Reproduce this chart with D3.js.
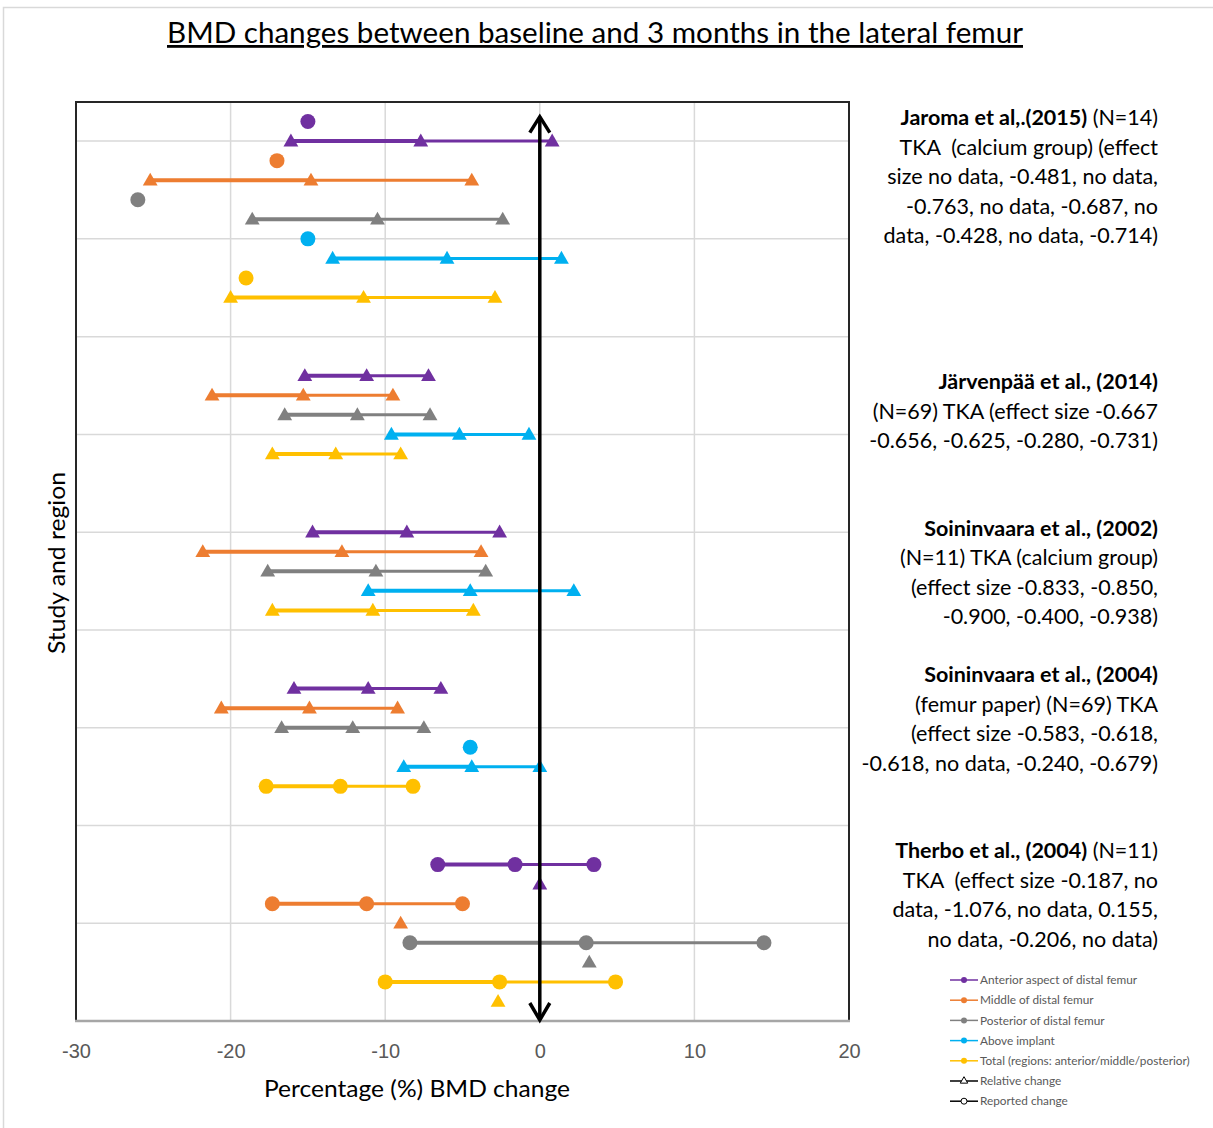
<!DOCTYPE html>
<html>
<head>
<meta charset="utf-8">
<script src="https://cdn.jsdelivr.net/npm/d3@7"></script>
<style>
    body { margin: 0; background: #fff; }
    svg { display: block; font-family: Lato, "Open Sans", sans-serif; }
    .note { white-space: pre; }
</style>
</head>
<body>
<div id="chart"></div>
<script>
// regions (series) and colours
var regions = ["Anterior aspect of distal femur", "Middle of distal femur", "Posterior of distal femur",
    "Above implant", "Total (regions: anterior/middle/posterior)"];
var regionColors = ["#7030a0", "#ed7d31", "#808080", "#00b0f0", "#ffc000"];

// rows: [region index, kind ("rel" = relative change, "rep" = reported change), row, values]
var jaroma = [
    [0, "rep", 46, [-15.0]],
    [0, "rel", 45, [-16.1, -7.7, 0.8]],
    [1, "rep", 44, [-17.0]],
    [1, "rel", 43, [-25.2, -14.8, -4.4]],
    [2, "rep", 42, [-26.0]],
    [2, "rel", 41, [-18.6, -10.5, -2.4]],
    [3, "rep", 40, [-15.0]],
    [3, "rel", 39, [-13.4, -6.0, 1.4]],
    [4, "rep", 38, [-19.0]],
    [4, "rel", 37, [-20.0, -11.4, -2.9]]
];
var jarvenpaa = [
    [0, "rel", 33, [-15.2, -11.2, -7.2]],
    [1, "rel", 32, [-21.2, -15.3, -9.5]],
    [2, "rel", 31, [-16.5, -11.8, -7.1]],
    [3, "rel", 30, [-9.6, -5.2, -0.7]],
    [4, "rel", 29, [-17.3, -13.2, -9.0]]
];
var soininvaara2002 = [
    [0, "rel", 25, [-14.7, -8.6, -2.6]],
    [1, "rel", 24, [-21.8, -12.8, -3.8]],
    [2, "rel", 23, [-17.6, -10.6, -3.5]],
    [3, "rel", 22, [-11.1, -4.5, 2.2]],
    [4, "rel", 21, [-17.3, -10.8, -4.3]]
];
var soininvaara2004 = [
    [0, "rel", 17, [-15.9, -11.1, -6.4]],
    [1, "rel", 16, [-20.6, -14.9, -9.2]],
    [2, "rel", 15, [-16.7, -12.1, -7.5]],
    [3, "rep", 14, [-4.5]],
    [3, "rel", 13, [-8.8, -4.4, 0.0]],
    [4, "rep", 12, [-17.7, -12.9, -8.2]]
];
var therbo = [
    [0, "rep", 8, [-6.6, -1.6, 3.5]],
    [0, "rel", 7, [0.0]],
    [1, "rep", 6, [-17.3, -11.2, -5.0]],
    [1, "rel", 5, [-9.0]],
    [2, "rep", 4, [-8.4, 3.0, 14.5]],
    [2, "rel", 3, [3.2]],
    [4, "rep", 2, [-10.0, -2.6, 4.9]],
    [4, "rel", 1, [-2.7]]
];

// axis ticks
var xTicks = [-30, -20, -10, 0, 10, 20];
var yGrid = [5, 10, 15, 20, 25, 30, 35, 40, 45];

// study annotations
var noteTitles = ["Jaroma et al,.(2015)", "Järvenpää et al., (2014)", "Soininvaara et al., (2002)",
    "Soininvaara et al., (2004)", "Therbo et al., (2004)"];
var noteTails = [" (N=14)", "", "", "", " (N=11)"];
var noteLines = [
    ["TKA  (calcium group) (effect", "size no data, -0.481, no data,", "-0.763, no data, -0.687, no", "data, -0.428, no data, -0.714)"],
    ["(N=69) TKA (effect size -0.667", "-0.656, -0.625, -0.280, -0.731)"],
    ["(N=11) TKA (calcium group)", "(effect size -0.833, -0.850,", "-0.900, -0.400, -0.938)"],
    ["(femur paper) (N=69) TKA", "(effect size -0.583, -0.618,", "-0.618, no data, -0.240, -0.679)"],
    ["TKA  (effect size -0.187, no", "data, -1.076, no data, 0.155,", "no data, -0.206, no data)"]
];
var noteRows = [46.2, 32.7, 25.2, 17.7, 8.7];

var legendLabels = regions.concat(["Relative change", "Reported change"]);

var svgWidth = 1213, svgHeight = 1128;
var plot = { left: 76, right: 849, top: 102, bottom: 1021 };

var svg = d3.select('#chart').append('svg')
    .attr('width', svgWidth)
    .attr('height', svgHeight);

//外框
svg.append('rect')
    .attr('x', 3.5).attr('y', 7.5)
    .attr('width', 1212).attr('height', 1126)
    .attr('fill', 'none')
    .attr('stroke', '#d9d9d9')
    .attr('stroke-width', 1.5);

var xScale = d3.scaleLinear().domain([-30, 20]).range([plot.left, plot.right]);
var yScale = d3.scaleLinear().domain([0, 47]).range([plot.bottom, plot.top]);

//grid
var gridLayer = svg.append('g').attr('class', 'grid');
gridLayer.selectAll('line.gx')
    .data(xTicks.slice(1, -1))
    .enter().append('line')
    .attr('x1', function (d) { return xScale(d); })
    .attr('x2', function (d) { return xScale(d); })
    .attr('y1', plot.top).attr('y2', plot.bottom)
    .attr('stroke', '#d9d9d9').attr('stroke-width', 1.5);
gridLayer.selectAll('line.gy')
    .data(yGrid)
    .enter().append('line')
    .attr('y1', function (d) { return yScale(d); })
    .attr('y2', function (d) { return yScale(d); })
    .attr('x1', plot.left).attr('x2', plot.right)
    .attr('stroke', '#d9d9d9').attr('stroke-width', 1.5);

//plot frame
svg.append('rect')
    .attr('x', plot.left).attr('y', plot.top)
    .attr('width', plot.right - plot.left).attr('height', plot.bottom - plot.top)
    .attr('fill', 'none')
    .attr('stroke', '#262626')
    .attr('stroke-width', 2);
svg.append('line')
    .attr('x1', plot.left - 1).attr('x2', plot.right + 1)
    .attr('y1', plot.bottom).attr('y2', plot.bottom)
    .attr('stroke', '#a6a6a6').attr('stroke-width', 2.5);

//x axis labels
var axisX = svg.append('g')
    .attr('transform', 'translate(0,' + plot.bottom + ')')
    .call(d3.axisBottom(xScale)
        .tickValues(xTicks)
        .tickFormat(function (d) { return String(d); })
        .tickSize(0)
        .tickPadding(23));
axisX.select('.domain').remove();
axisX.selectAll('text')
    .attr('fill', '#595959')
    .style('font-size', '20px');

var triangle = d3.symbol().type(d3.symbolTriangle).size(95);
var triangleSmall = d3.symbol().type(d3.symbolTriangle).size(24);

//series
var allRows = [].concat(jaroma, jarvenpaa, soininvaara2002, soininvaara2004, therbo);
var seriesLayer = svg.append('g').attr('class', 'series');

allRows.forEach(function (r) {
    var color = regionColors[r[0]];
    var y = yScale(r[2]);
    var vals = r[3];
    var g = seriesLayer.append('g');
    if (vals.length === 3) {
        g.append('line')
            .attr('x1', xScale(vals[0])).attr('x2', xScale(vals[1]))
            .attr('y1', y).attr('y2', y)
            .attr('stroke', color).attr('stroke-width', 4);
        g.append('line')
            .attr('x1', xScale(vals[1])).attr('x2', xScale(vals[2]))
            .attr('y1', y).attr('y2', y)
            .attr('stroke', color).attr('stroke-width', 3);
    }
    vals.forEach(function (v) {
        if (r[1] === 'rel') {
            g.append('path')
                .attr('d', triangle)
                .attr('transform', 'translate(' + xScale(v) + ',' + (y + 1) + ')')
                .attr('fill', color);
        } else {
            g.append('circle')
                .attr('cx', xScale(v)).attr('cy', y)
                .attr('r', 7.5)
                .attr('fill', color);
        }
    });
});

//double arrow on zero
var x0 = xScale(0);
var arrowTop = yScale(46.3), arrowBottom = yScale(0);
svg.append('line')
    .attr('x1', x0).attr('x2', x0)
    .attr('y1', arrowTop + 1).attr('y2', arrowBottom - 1)
    .attr('stroke', '#000').attr('stroke-width', 3.5);
svg.append('polyline')
    .attr('points', [[x0 - 10, arrowTop + 17], [x0, arrowTop + 1], [x0 + 10, arrowTop + 17]].join(' '))
    .attr('fill', 'none').attr('stroke', '#000').attr('stroke-width', 3.5);
svg.append('polyline')
    .attr('points', [[x0 - 10, arrowBottom - 18], [x0, arrowBottom - 1], [x0 + 10, arrowBottom - 18]].join(' '))
    .attr('fill', 'none').attr('stroke', '#000').attr('stroke-width', 3.5);

//title
svg.append('text')
    .attr('x', 595).attr('y', 43)
    .attr('text-anchor', 'middle')
    .attr('textLength', 856).attr('lengthAdjust', 'spacingAndGlyphs')
    .style('font-size', '28px')
    .style('text-decoration', 'underline')
    .text('BMD changes between baseline and 3 months in the lateral femur');

//axis titles
svg.append('text')
    .attr('x', 417).attr('y', 1097)
    .attr('text-anchor', 'middle')
    .attr('textLength', 306).attr('lengthAdjust', 'spacingAndGlyphs')
    .style('font-size', '23px')
    .text('Percentage (%) BMD change');
svg.append('text')
    .attr('transform', 'translate(65,563) rotate(-90)')
    .attr('text-anchor', 'middle')
    .attr('textLength', 182).attr('lengthAdjust', 'spacingAndGlyphs')
    .style('font-size', '23px')
    .text('Study and region');

//annotations
var noteLayer = svg.append('g').attr('class', 'notes');
noteTitles.forEach(function (t, i) {
    var y0 = yScale(noteRows[i]);
    var first = noteLayer.append('text')
        .attr('class', 'note')
        .attr('x', 1158).attr('y', y0).attr('dy', '0.35em')
        .attr('text-anchor', 'end')
        .style('font-size', '21.5px');
    first.append('tspan').style('font-weight', 'bold').text(t);
    if (noteTails[i]) { first.append('tspan').text(noteTails[i]); }
    noteLines[i].forEach(function (line, j) {
        noteLayer.append('text')
            .attr('class', 'note')
            .attr('x', 1158).attr('y', y0 + (j + 1) * 29.5).attr('dy', '0.35em')
            .attr('text-anchor', 'end')
            .style('font-size', '21.5px')
            .text(line);
    });
});

//legend
var legend = svg.append('g').attr('class', 'legend');
legendLabels.forEach(function (label, i) {
    var ly = 980 + i * 20.2;
    var color = i < regionColors.length ? regionColors[i] : '#000';
    legend.append('line')
        .attr('x1', 950).attr('x2', 978)
        .attr('y1', ly).attr('y2', ly)
        .attr('stroke', color).attr('stroke-width', 1.5);
    if (i < regionColors.length) {
        legend.append('circle').attr('cx', 964).attr('cy', ly).attr('r', 3).attr('fill', color);
    } else if (label === 'Relative change') {
        legend.append('path').attr('d', triangleSmall)
            .attr('transform', 'translate(964,' + ly + ')')
            .attr('fill', '#fff').attr('stroke', '#000').attr('stroke-width', 1);
    } else {
        legend.append('circle').attr('cx', 964).attr('cy', ly).attr('r', 3)
            .attr('fill', '#fff').attr('stroke', '#000').attr('stroke-width', 1);
    }
    legend.append('text')
        .attr('x', 980).attr('y', ly).attr('dy', '0.35em')
        .attr('fill', '#595959')
        .style('font-size', '11.8px')
        .text(label);
});
</script>
</body>
</html>
